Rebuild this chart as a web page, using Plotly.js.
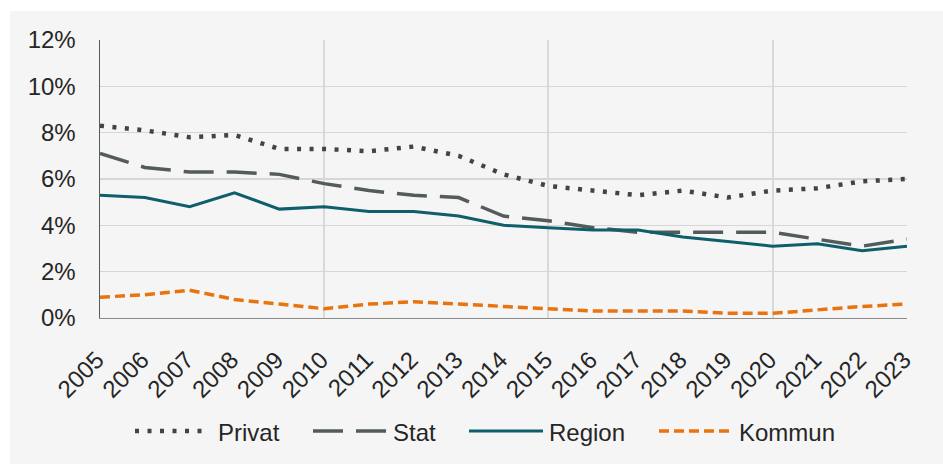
<!DOCTYPE html>
<html>
<head>
<meta charset="utf-8">
<script src="https://cdn.plot.ly/plotly-3.0.1.min.js"></script>
<style>html,body{margin:0;padding:0;background:#fff;}#chart{width:943px;height:464px;}</style>
</head>
<body>
<div id="chart"></div>
<script>
const years = [2005,2006,2007,2008,2009,2010,2011,2012,2013,2014,2015,2016,2017,2018,2019,2020,2021,2022,2023];
const privat = [8.3,8.1,7.8,7.9,7.3,7.3,7.2,7.4,7.0,6.2,5.7,5.5,5.3,5.5,5.2,5.5,5.6,5.9,6.0];
const stat   = [7.1,6.5,6.3,6.3,6.2,5.8,5.5,5.3,5.2,4.4,4.2,3.9,3.7,3.7,3.7,3.7,3.4,3.1,3.4];
const region = [5.3,5.2,4.8,5.4,4.7,4.8,4.6,4.6,4.4,4.0,3.9,3.8,3.8,3.5,3.3,3.1,3.2,2.9,3.1];
const kommun = [0.9,1.0,1.2,0.8,0.6,0.4,0.6,0.7,0.6,0.5,0.4,0.3,0.3,0.3,0.2,0.2,0.35,0.5,0.6];
const seriesNames = ["Privat","Stat","Region","Kommun"];
const gridYears = [2010,2015,2020];
const yTicks = [0,2,4,6,8,10,12];

const FONT = "Liberation Sans, Arial, sans-serif";
const TXT = "#262626";
const FS = 24;
const styles = [
  {color:"#3e4545", width:4.5, dash:"4px,8.5px"},
  {color:"#535b5b", width:3.5, dash:"30px,13px"},
  {color:"#0e5e6b", width:3, dash:"solid"},
  {color:"#e8730f", width:3.5, dash:"10px,5px"}
];
const data = [privat, stat, region, kommun].map((vals,i)=>({
  type:"scatter", mode:"lines", x:years, y:vals, name:seriesNames[i],
  line:{color:styles[i].color, width:styles[i].width, dash:styles[i].dash},
  showlegend:false, hoverinfo:"skip"
}));
// invisible helper trace so the overlay axis (vertical gridlines) is drawn
data.unshift({type:"scatter", mode:"none", x:gridYears, y:gridYears.map(()=>null), xaxis:"x2", yaxis:"y",
  showlegend:false, hoverinfo:"skip"});

const L=100, R=36, T=40, B=146, W=943, H=464;
const pw = W-L-R, ph = H-T-B;
const px = p => (p-L)/pw;
const py = p => (H-B-p)/ph;

const shapes = [{type:"rect", xref:"paper", yref:"paper", x0:px(10), x1:px(960), y0:py(480), y1:py(11),
  fillcolor:"#f5f5f5", line:{width:0}, layer:"below"}];
const annotations = [];
const legY = 431;
const legItems = [[135,209,216],[313,388,391],[469,543,547],[659,733,737]];
legItems.forEach((it,i)=>{
  shapes.push({type:"line", xref:"paper", yref:"paper", x0:px(it[0]), x1:px(it[1]), y0:py(legY), y1:py(legY),
    line:{color:styles[i].color, width:styles[i].width, dash:styles[i].dash}});
  annotations.push({xref:"paper", yref:"paper", x:px(it[2]), y:py(legY+1), xanchor:"left", yanchor:"middle",
    text:seriesNames[i], showarrow:false, font:{family:FONT, size:FS, color:TXT}});
});

const layout = {
  width:W, height:H,
  margin:{l:L, r:R, t:T, b:B, pad:0},
  paper_bgcolor:"#ffffff", plot_bgcolor:"#f5f5f5",
  font:{family:FONT, color:TXT, size:FS},
  xaxis:{type:"linear", range:[2005,2023], tickmode:"array", tickvals:years, ticktext:years.map(String),
    tickangle:-45, showgrid:false, zeroline:false, showline:true, linecolor:"#8c8c8c", linewidth:1.2,
    ticks:"", ticklabelstandoff:17, ticklabelshift:-3, tickfont:{family:FONT, size:FS, color:TXT}, fixedrange:true},
  xaxis2:{type:"linear", range:[2005,2023], overlaying:"x", anchor:"y", side:"bottom", tickmode:"array", tickvals:gridYears,
    showticklabels:false, showgrid:true, gridcolor:"#d9d9d9", gridwidth:2, zeroline:false, showline:false, ticks:"", fixedrange:true},
  yaxis:{range:[0,12], tickmode:"array", tickvals:yTicks, ticktext:yTicks.map(v=>v+"%"),
    showgrid:true, gridcolor:"#d6d6d6", gridwidth:1.5, zeroline:false, showline:true, linecolor:"#5a5a5a", linewidth:1.5,
    ticks:"", ticklabelstandoff:18, tickfont:{family:FONT, size:FS, color:TXT}, fixedrange:true},
  shapes:shapes, annotations:annotations, showlegend:false
};
Plotly.newPlot("chart", data, layout, {staticPlot:true, displayModeBar:false});
</script>
</body>
</html>
